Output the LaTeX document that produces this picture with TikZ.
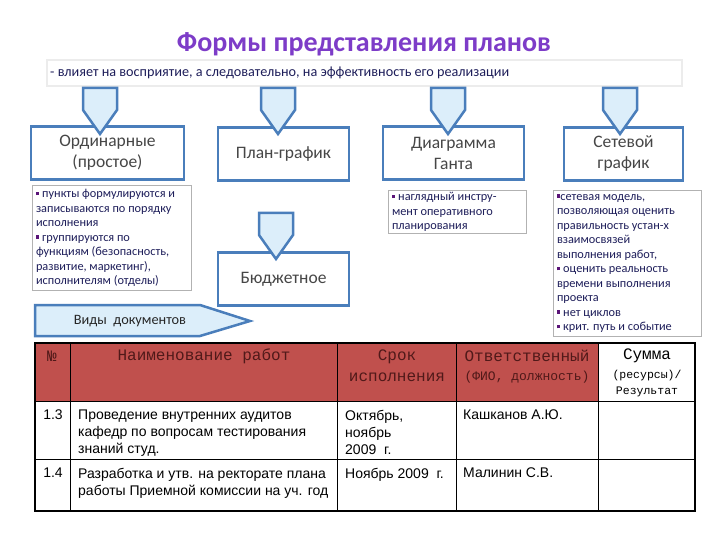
\documentclass[tikz,border=0pt]{standalone}
\usepackage{fontspec}
\setmainfont{Carlito}
\newfontfamily\arialfont{Liberation Sans}
\newfontfamily\courfont{Liberation Mono}
\usetikzlibrary{positioning, calc}

\definecolor{boxblue}{RGB}{74,126,187}
\definecolor{calloutfill}{RGB}{220,238,250}
\definecolor{titlepurple}{RGB}{125,60,200}
\definecolor{notetext}{RGB}{30,30,90}
\definecolor{bulletsq}{RGB}{90,20,120}
\definecolor{boxtext}{RGB}{70,70,70}
\definecolor{headred}{RGB}{192,80,77}
\definecolor{headtext}{RGB}{80,25,25}

\newcommand{\sqb}{\textcolor{bulletsq}{\rule[0.2em]{0.28em}{0.28em}}}

\begin{document}
\begin{tikzpicture}[
    x=1pt, y=-1pt,
    kind/.style={rectangle, draw=boxblue, line width=2.5pt, fill=white,
                 text=boxtext, minimum width=#1, minimum height=53pt,
                 align=center, font=\fontsize{17.5}{21}\selectfont},
    note/.style={rectangle, draw=gray!60, line width=0.6pt, fill=white,
                 text=notetext, text width=#1, align=flush left, anchor=north,
                 inner xsep=4pt, inner ysep=4pt,
                 font=\fontsize{12.3}{14.5}\selectfont},
    callout/.style={draw=boxblue, line width=2.5pt, fill=calloutfill,
                    line join=miter},
    head/.style={text=headtext, inner sep=0pt, align=center,
                 font=\courfont\fontsize{16}{21}\selectfont},
    cell/.style={inner sep=0pt, anchor=north west, align=left,
                 font=\arialfont\fontsize{14}{17}\selectfont},
    grid/.style={line width=0.8pt, black}
  ]
  \useasboundingbox[fill=white] (0,0) rectangle (720,540);

  % title and subtitle bar
  \node[font=\bfseries\fontsize{28}{32}\selectfont, text=titlepurple]
    (title) at (364,44) {Формы представления планов};
  \draw[draw=gray!15, line width=1.5pt, fill=white] (47,60) rectangle (682,86);
  \node[anchor=west, inner sep=0pt, text=notetext,
        font=\fontsize{14.2}{16}\selectfont]
    (sub) at (50,73) {- влияет на восприятие, а следовательно, на эффективность его реализации};

  % kinds of plans
  \node[kind=153pt] (ord)    at (107.5,153) {Ординарные\\(простое)};
  \node[kind=131pt] (plan)   at (283.5,154) {План-график};
  \node[kind=141pt] (gantt)  at (453.5,153) {Диаграмма\\Ганта};
  \node[kind=119pt] (net)    at (623.5,154) {Сетевой\\график};
  \node[kind=131pt] (budget) at (283.5,279) {Бюджетное};

  \foreach \cx/\ty in {100/88, 278/88, 448/88, 620/88, 276/213}
    \draw[callout] (\cx-17,\ty) -- (\cx+17,\ty) -- (\cx+17,\ty+22)
      -- (\cx,\ty+46) -- (\cx-17,\ty+22) -- cycle;

  % notes
  \node[note=151pt] (ordnote) at (111.5,185)
    {\sqb{} пункты формулируются и\\записываются по порядку\\исполнения\\
     \sqb{} группируются по\\функциям (безопасность,\\развитие, маркетинг),\\
     исполнителям (отделы)};
  \node[note=130pt, inner ysep=2pt] (ganttnote) at (457,190)
    {\sqb{} наглядный инстру-\\мент оперативного\\планирования};
  \node[note=140pt] (netnote) at (627,190)
    {\sqb{}сетевая модель,\\позволяющая оценить\\правильность устан-х\\
     взаимосвязей\\выполнения работ,\\\sqb{} оценить реальность\\
     времени выполнения\\проекта\\\sqb{} нет циклов\\\sqb{} крит. путь и событие};

  % documents arrow
  \draw[callout] (35,305) -- (200,305) -- (250,321) -- (200,336)
    -- (35,336) -- cycle;
  \node[font=\fontsize{14.3}{16}\selectfont, text=black!85]
    (docs) at (130,321) {Виды \ документов};

  % table
  \fill[headred] (35,343) rectangle (598,401);
  \foreach \xx in {70,337,456,598}
    \draw[grid] (\xx,343) -- (\xx,511);
  \foreach \yy in {401,459}
    \draw[grid] (35,\yy) -- (695,\yy);
  \draw[line width=2pt] (35,343) rectangle (695,511);

  \node[head] (hnum)  at (52,356)  {№};
  \node[head] (hname) at (204,356) {Наименование работ};
  \node[head] (hterm) at (397,366) {Срок\\исполнения};
  \node[head] (hresp) at (527,356) {Ответственный};
  \node[head, font=\courfont\fontsize{13}{14}\selectfont]
    (hpos) at (527,377) {(ФИО, должность)};
  \node[head, text=black] (hsum) at (647,356) {Сумма};
  \node[head, text=black, font=\courfont\fontsize{11.5}{16}\selectfont]
    (hres) at (647,384) {(ресурсы)/\\Результат};

  \node[cell, anchor=north] (n13) at (53,410) {1.3};
  \node[cell] (w13) at (78,410)
    {Проведение внутренних аудитов\\кафедр по вопросам тестирования\\знаний студ.};
  \node[cell] (t13) at (345,410) {Октябрь,\\ноябрь\\2009 \ г.};
  \node[cell] (r13) at (463,410) {Кашканов А.Ю.};

  \node[cell, anchor=north] (n14) at (53,468) {1.4};
  \node[cell] (w14) at (78,468)
    {Разработка и утв. на ректорате плана\\работы Приемной комиссии на уч. год};
  \node[cell] (t14) at (345,468) {Ноябрь 2009 \ г.};
  \node[cell] (r14) at (463,468) {Малинин С.В.};

\end{tikzpicture}
\end{document}
